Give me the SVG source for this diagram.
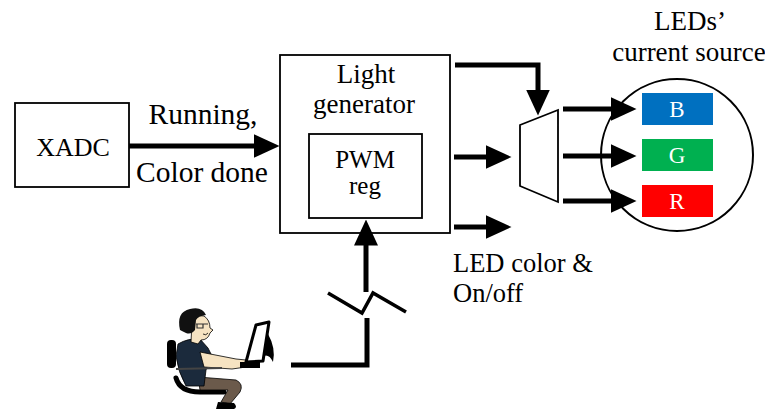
<svg xmlns="http://www.w3.org/2000/svg" width="765" height="409" viewBox="0 0 765 409">
  <style>
    .box { fill: #ffffff; stroke: #000000; stroke-width: 1.8; }
    text { font-family: "Liberation Serif", "DejaVu Serif", "Times New Roman", serif; }
    .lbl { fill: #000000; }
    .led { fill: #ffffff; font-size: 23px; text-anchor: middle; }
    .wire { fill: none; stroke: #000000; stroke-width: 5; }
  </style>
  <defs>
    <marker id="arrow" viewBox="0 0 26 24" refX="0.5" refY="12" markerWidth="26" markerHeight="24" markerUnits="userSpaceOnUse" orient="auto">
      <path d="M0,0 L26,12 L0,24 z" fill="#000000"/>
    </marker>
  </defs>

  <rect width="765" height="409" fill="#ffffff"/>

  <!-- XADC block -->
  <g id="xadc">
    <rect class="box" x="15" y="103" width="114" height="84"/>
    <text class="lbl" x="73" y="156" font-size="26" text-anchor="middle">XADC</text>
  </g>

  <!-- Light generator with PWM register inside -->
  <g id="light-generator">
    <rect class="box" x="280" y="55" width="170" height="178"/>
    <text class="lbl" x="366" y="83" font-size="27" text-anchor="middle">Light</text>
    <text class="lbl" x="364" y="113" font-size="27" text-anchor="middle">generator</text>
  </g>
  <g id="pwm-reg">
    <rect class="box" x="309" y="134" width="113" height="84"/>
    <text class="lbl" x="365" y="168" font-size="25" text-anchor="middle">PWM</text>
    <text class="lbl" x="365" y="194" font-size="25" text-anchor="middle">reg</text>
  </g>

  <!-- Multiplexer -->
  <g id="mux">
    <polygon points="520,125 558,110 558,202 520,186" fill="#ffffff" stroke="#000000" stroke-width="1.8"/>
  </g>

  <!-- LED current source -->
  <g id="led-source">
    <text class="lbl" x="690" y="30" font-size="27" text-anchor="middle">LEDs’</text>
    <text class="lbl" x="689" y="61" font-size="27" text-anchor="middle">current source</text>
    <circle cx="677" cy="155" r="76" fill="#ffffff" stroke="#000000" stroke-width="2"/>
    <rect x="642" y="93" width="71" height="32" fill="#0070C0"/>
    <text class="led" x="677" y="117">B</text>
    <rect x="642" y="139" width="71" height="32" fill="#00B050"/>
    <text class="led" x="677" y="163">G</text>
    <rect x="642" y="185" width="71" height="32" fill="#FF0000"/>
    <text class="led" x="677" y="209">R</text>
  </g>

  <!-- Signal labels -->
  <g id="labels">
    <text class="lbl" x="203" y="124" font-size="29.5" text-anchor="middle">Running,</text>
    <text class="lbl" x="202" y="182" font-size="29.5" text-anchor="middle">Color done</text>
    <text class="lbl" x="453" y="272" font-size="26.5">LED color &amp;</text>
    <text class="lbl" x="453" y="302" font-size="26.5">On/off</text>
  </g>

  <!-- User at a computer -->
  <g id="user">
    <!-- chair back -->
    <rect x="167" y="340" width="9" height="28" rx="4" fill="#000000"/>
    <!-- chair seat -->
    <path d="M176,378 Q180,392 200,392 L224,392" fill="none" stroke="#000000" stroke-width="5" stroke-linecap="round"/>
    <!-- trousers -->
    <path d="M198,377 L236,380 Q244,384 240,392 L230,404 L221,402 L228,390 L200,390 Z" fill="#6b5a4b" stroke="#000000" stroke-width="0.8"/>
    <!-- shoe -->
    <path d="M218,402 L234,403 Q238,407 234,409 L216,409 Z" fill="#000000"/>
    <!-- shirt -->
    <path d="M178,344 Q188,338 200,339 L208,348 L212,356 L206,370 L204,386 L186,386 Q178,372 176,356 Z" fill="#1b2a3c" stroke="#000000" stroke-width="0.8"/>
    <!-- arm -->
    <path d="M200,352 L236,359 L246,360 L246,367 L232,369 L204,367 Z" fill="#f6e3c2" stroke="#000000" stroke-width="0.8"/>
    <!-- chair armrest -->
    <path d="M176,369 L222,368" fill="none" stroke="#444444" stroke-width="2"/>
    <!-- neck and face -->
    <path d="M192,322 Q194,314 204,316 Q210,320 210,328 L213,330 L210,333 Q208,340 201,340 L198,344 L191,342 Z" fill="#f6e3c2" stroke="#000000" stroke-width="0.8"/>
    <!-- hair -->
    <path d="M180,330 Q176,312 190,309 Q202,306 206,315 Q198,316 196,320 L195,330 Q191,335 186,333 Z" fill="#111111"/>
    <!-- glasses -->
    <path d="M196,324 L208,324 M197,324 L197,328 L203,328 L203,324" fill="none" stroke="#333333" stroke-width="1.2"/>
    <!-- smile -->
    <path d="M203,334 Q206,336 208,333" fill="none" stroke="#000000" stroke-width="0.8"/>
    <!-- keyboard -->
    <rect x="240" y="362" width="20" height="6" fill="#000000"/>
    <!-- monitor -->
    <path d="M256,325 L269,322 L263,361 L246,362 Z" fill="#ffffff" stroke="#000000" stroke-width="3" stroke-linejoin="round"/>
    <!-- monitor back -->
    <path d="M268,334 Q276,348 273,362 Q269,354 264,356 Z" fill="#000000"/>
  </g>

  <!-- Connectors -->
  <g id="connectors">
    <path class="wire" d="M129,146 H254" marker-end="url(#arrow)"/>
    <path class="wire" d="M455,65 H538 V90" marker-end="url(#arrow)"/>
    <path class="wire" d="M454,157 H486" marker-end="url(#arrow)"/>
    <path class="wire" d="M454,227 H486" marker-end="url(#arrow)"/>
    <path class="wire" d="M563,109 H611" marker-end="url(#arrow)"/>
    <path class="wire" d="M563,156 H611" marker-end="url(#arrow)"/>
    <path class="wire" d="M563,201 H611" marker-end="url(#arrow)"/>
    <!-- wireless link from the user to the PWM register -->
    <path class="wire" d="M291,365 H367 V318"/>
    <path d="M328,293 L362,313 L373,293 L406,312" fill="none" stroke="#000000" stroke-width="3.5"/>
    <path class="wire" d="M366,292 V245" marker-end="url(#arrow)"/>
  </g>
</svg>
